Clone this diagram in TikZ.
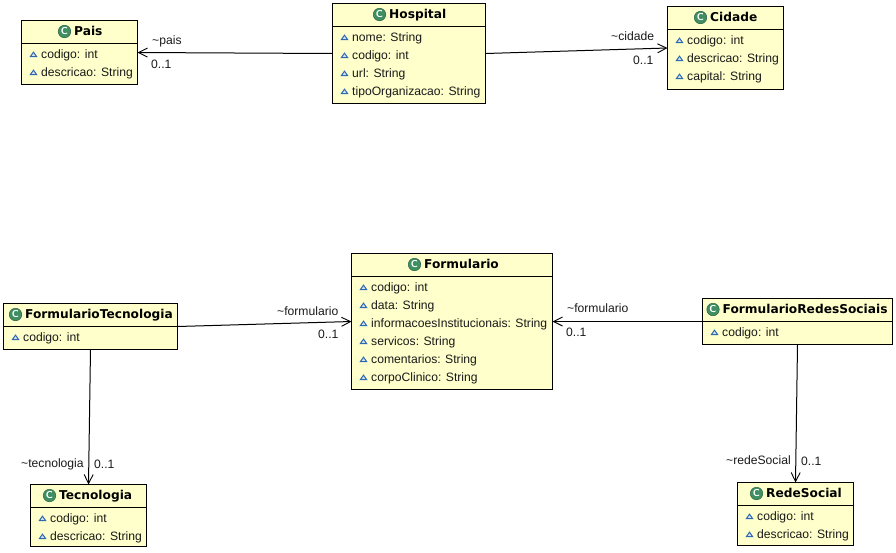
\documentclass[tikz,border=0pt]{standalone}
\usepackage{fontspec}
\setmainfont{Liberation Sans}
\newfontfamily\titlefont{DejaVu Sans}[BoldFont={DejaVu Sans Bold}]
\definecolor{classfill}{HTML}{FFFFCC}
\definecolor{icongreen}{HTML}{3F8F62}
\definecolor{attrblue}{HTML}{2E68B0}
\usetikzlibrary{arrows.meta,shapes.geometric}
\tikzset{
  x=1pt,y=-1pt,
  classbox/.style={draw=black,fill=classfill,line width=1pt,rectangle,inner sep=0,outer sep=0,anchor=north west},
  divider/.style={draw=black,line width=1pt},
  titletext/.style={font=\titlefont\bfseries\fontsize{12.2}{14}\selectfont,inner sep=0,anchor=base west,text=black},
  attrtext/.style={font=\fontsize{12.15}{14}\selectfont,inner sep=0,anchor=base west,text=black!90},
  linklabel/.style={font=\fontsize{12.15}{14}\selectfont,inner sep=0,anchor=base west,text=black!90},
  classicon/.style={circle,fill=icongreen,draw=icongreen!70!black,line width=.5pt,minimum size=12.5pt,inner sep=0,text=white,font=\sffamily\bfseries\fontsize{10}{10}\selectfont},
  attricon/.style={isosceles triangle,isosceles triangle apex angle=70,shape border rotate=90,draw=attrblue,fill=attrblue!20,line width=1pt,minimum height=4.5pt,minimum width=6pt,inner sep=0},
  assoc/.style={draw=black,line width=1pt,-{Straight Barb[length=9pt,width=9pt,line width=.9pt]}},
}
% #1 name, #2 x1, #3 y1, #4 x2, #5 y2, #6 divider y, #7 icon x, #8 title
\newcommand{\umlbox}[8]{%
  \node[classbox,minimum width=#4pt-#2pt,minimum height=#5pt-#3pt] (#1) at (#2,#3) {};
  \draw[divider] (#2,#6) -- (#4,#6);
  \node[classicon] (#1icon) at (#7,#6-12) {C};
  \node[titletext] (#1title) at (#7+9.5,#6-8) {#8};
}
% #1 name, #2 x icon, #3 baseline y, #4 text x, #5 text
\newcommand{\umlattr}[5]{%
  \node[attricon] (#1i) at (#2,#3-3) {};
  \node[attrtext] (#1t) at (#4,#3) {#5};
}
\begin{document}
\begin{tikzpicture}
\useasboundingbox (0,0) rectangle (896,552);
\umlbox{pais}{21.5}{20.5}{137.5}{84.5}{43.5}{64.5}{Pais}
\umlattr{paisa}{33.5}{58}{41}{codigo: int}
\umlattr{paisb}{33.5}{76}{41}{descricao: String}

\umlbox{hosp}{332.5}{3.5}{485.5}{103.5}{26.5}{379.5}{Hospital}
\umlattr{hospa}{344.5}{41}{352}{nome: String}
\umlattr{hospb}{344.5}{59}{352}{codigo: int}
\umlattr{hospc}{344.5}{77}{352}{url: String}
\umlattr{hospd}{344.5}{95}{352}{tipoOrganizacao: String}

\umlbox{cid}{667.5}{6.5}{783.5}{89.5}{29.5}{700.5}{Cidade}
\umlattr{cida}{679.5}{44}{687}{codigo: int}
\umlattr{cidb}{679.5}{62}{687}{descricao: String}
\umlattr{cidc}{679.5}{80}{687}{capital: String}

\umlbox{form}{351.5}{253.5}{552.5}{389.5}{276.5}{414.5}{Formulario}
\umlattr{forma}{363.5}{291}{371}{codigo: int}
\umlattr{formb}{363.5}{309}{371}{data: String}
\umlattr{formc}{363.5}{327}{371}{informacoesInstitucionais: String}
\umlattr{formd}{363.5}{345}{371}{servicos: String}
\umlattr{forme}{363.5}{363}{371}{comentarios: String}
\umlattr{formf}{363.5}{381}{371}{corpoClinico: String}

\umlbox{ftec}{3.5}{303.5}{177.5}{349.5}{326.5}{15.5}{FormularioTecnologia}
\umlattr{ftecA}{15.5}{341}{23}{codigo: int}

\umlbox{frs}{702.5}{298.5}{892.5}{344.5}{321.5}{713}{FormularioRedesSociais}
\umlattr{frsA}{714.5}{336}{722}{codigo: int}

\umlbox{tec}{30.5}{484.5}{146.5}{546.5}{507.5}{49.5}{Tecnologia}
\umlattr{teca}{42.5}{522}{50}{codigo: int}
\umlattr{tecb}{42.5}{540}{50}{descricao: String}

\umlbox{rede}{737.5}{482.5}{853.5}{545.5}{505.5}{756.5}{RedeSocial}
\umlattr{redea}{749.5}{520}{757}{codigo: int}
\umlattr{redeb}{749.5}{538}{757}{descricao: String}

\draw[assoc] (hosp.west) -- (pais.east);
\draw[assoc] (hosp.east) -- (cid.west);
\draw[assoc] (ftec.east) -- (form.west);
\draw[assoc] (frs.west) -- (form.east);
\draw[assoc] (ftec.south) -- (tec.north);
\draw[assoc] (frs.south) -- (rede.north);

\node[linklabel] (l1) at (152,44) {\textasciitilde pais};
\node[linklabel] (l2) at (151,68) {0..1};
\node[linklabel] (l3) at (611,40) {\textasciitilde cidade};
\node[linklabel] (l4) at (633,64) {0..1};
\node[linklabel] (l5) at (277,315) {\textasciitilde formulario};
\node[linklabel] (l6) at (318,338) {0..1};
\node[linklabel] (l7) at (567,312) {\textasciitilde formulario};
\node[linklabel] (l8) at (566,336) {0..1};
\node[linklabel] (l9) at (21,467) {\textasciitilde tecnologia};
\node[linklabel] (l10) at (94,468) {0..1};
\node[linklabel] (l11) at (726,464) {\textasciitilde redeSocial};
\node[linklabel] (l12) at (801,465) {0..1};
\end{tikzpicture}
\end{document}
